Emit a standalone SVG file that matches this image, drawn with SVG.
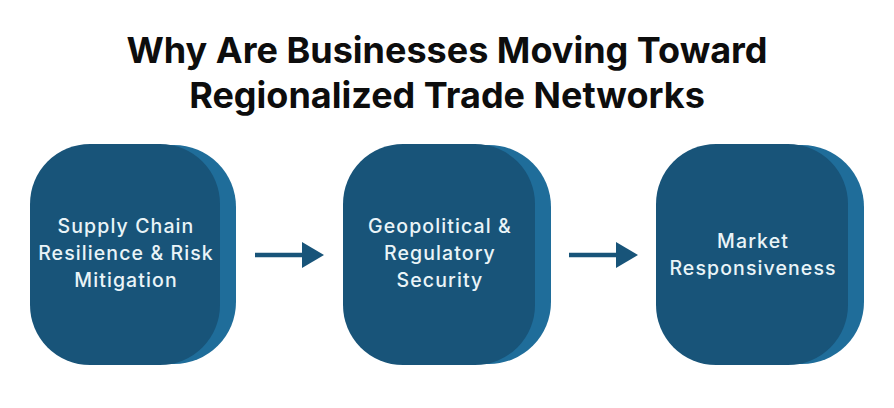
<svg xmlns="http://www.w3.org/2000/svg" width="894" height="408" viewBox="0 0 894 408">
  <defs>
    <style>
      .title { font-family: Inter, "Liberation Sans", sans-serif; font-weight: 700; font-size: 36px; fill: #0d0d0d; text-anchor: middle; }
      .back { fill: #1f6d9a; }
      .front { fill: #185479; }
      .label { font-family: Inter, "Liberation Sans", sans-serif; font-weight: 500; font-size: 19.5px; letter-spacing: 1.1px; fill: #eaf4f8; text-anchor: middle; }
      .conn { stroke: #185479; stroke-width: 4.5; fill: none; }
      .head { fill: #185479; }
    </style>
  </defs>
  <rect width="894" height="408" fill="#ffffff"/>
  <text class="title" x="447" y="63">Why Are Businesses Moving Toward</text>
  <text class="title" x="447" y="108">Regionalized Trade Networks</text>

  <g id="node1">
    <rect class="back" x="46" y="145" width="190" height="219" rx="62"/>
    <rect class="front" x="30" y="144" width="190" height="221" rx="60"/>
    <text class="label" x="126" y="233">Supply Chain</text>
    <text class="label" x="126" y="260">Resilience &amp; Risk</text>
    <text class="label" x="126" y="287">Mitigation</text>
  </g>
  <g id="node2">
    <rect class="back" x="359" y="145" width="192" height="219" rx="62"/>
    <rect class="front" x="343" y="144" width="192" height="221" rx="60"/>
    <text class="label" x="440" y="233">Geopolitical &amp;</text>
    <text class="label" x="440" y="260">Regulatory</text>
    <text class="label" x="440" y="287">Security</text>
  </g>
  <g id="node3">
    <rect class="back" x="672" y="145" width="192" height="219" rx="62"/>
    <rect class="front" x="656" y="144" width="192" height="221" rx="60"/>
    <text class="label" x="753" y="248">Market</text>
    <text class="label" x="753" y="275">Responsiveness</text>
  </g>

  <g id="connectors">
    <line class="conn" x1="255" y1="255" x2="304" y2="255"/>
    <polygon class="head" points="302,242 324,255 302,268"/>
    <line class="conn" x1="569" y1="255" x2="618" y2="255"/>
    <polygon class="head" points="616,242 638,255 616,268"/>
  </g>
</svg>
